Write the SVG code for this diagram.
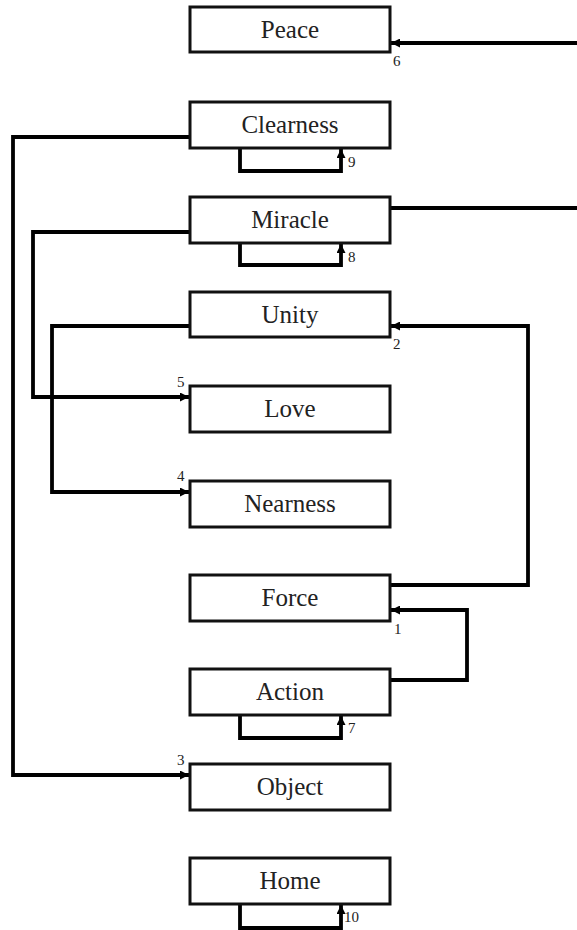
<svg xmlns="http://www.w3.org/2000/svg" width="577" height="930" viewBox="0 0 577 930">
<style>
.box{fill:#fff;stroke:#111;stroke-width:3}
.lbl{font-family:"Liberation Serif","Times New Roman",serif;font-size:25px;fill:#222;text-anchor:middle}
.num{font-family:"Liberation Serif","Times New Roman",serif;font-size:15px;fill:#222}
.edge{fill:none;stroke:#000;stroke-width:3.8}
</style>
<defs>
<marker id="ah" viewBox="0 0 10 10" refX="10" refY="5" markerWidth="9" markerHeight="9" markerUnits="userSpaceOnUse" orient="auto">
<path d="M0,0 L10,5 L0,10 z" fill="#000"/>
</marker>
</defs>
<rect width="577" height="930" fill="#fff"/>
<g id="connectors">
<path class="edge" d="M577,43 H391" marker-end="url(#ah)"/>
<path class="edge" d="M390,208 H577"/>
<path class="edge" d="M240,148 V171 H341 V149" marker-end="url(#ah)"/>
<path class="edge" d="M240,243 V265 H341 V244" marker-end="url(#ah)"/>
<path class="edge" d="M240,715 V738 H341 V716" marker-end="url(#ah)"/>
<path class="edge" d="M240,904 V928 H341 V905" marker-end="url(#ah)"/>
<path class="edge" d="M190,137 H13 V775 H189" marker-end="url(#ah)"/>
<path class="edge" d="M190,232 H33 V397 H189" marker-end="url(#ah)"/>
<path class="edge" d="M190,326 H52 V492 H189" marker-end="url(#ah)"/>
<path class="edge" d="M390,585 H528 V326 H391" marker-end="url(#ah)"/>
<path class="edge" d="M390,680 H467 V610 H391" marker-end="url(#ah)"/>
<text class="num" x="393" y="66">6</text>
<text class="num" x="348" y="167">9</text>
<text class="num" x="348" y="262">8</text>
<text class="num" x="393" y="349">2</text>
<text class="num" x="177" y="387">5</text>
<text class="num" x="177" y="481">4</text>
<text class="num" x="394" y="634">1</text>
<text class="num" x="348" y="733">7</text>
<text class="num" x="177" y="765">3</text>
<text class="num" x="344" y="922">10</text>
</g>
<g id="peace"><rect class="box" x="190" y="7" width="200" height="45"/><text class="lbl" x="290" y="38">Peace</text></g>
<g id="clearness"><rect class="box" x="190" y="102" width="200" height="46"/><text class="lbl" x="290" y="133">Clearness</text></g>
<g id="miracle"><rect class="box" x="190" y="197" width="200" height="46"/><text class="lbl" x="290" y="228">Miracle</text></g>
<g id="unity"><rect class="box" x="190" y="292" width="200" height="45"/><text class="lbl" x="290" y="323">Unity</text></g>
<g id="love"><rect class="box" x="190" y="386" width="200" height="46"/><text class="lbl" x="290" y="417">Love</text></g>
<g id="nearness"><rect class="box" x="190" y="481" width="200" height="46"/><text class="lbl" x="290" y="512">Nearness</text></g>
<g id="force"><rect class="box" x="190" y="575" width="200" height="46"/><text class="lbl" x="290" y="606">Force</text></g>
<g id="action"><rect class="box" x="190" y="669" width="200" height="46"/><text class="lbl" x="290" y="700">Action</text></g>
<g id="object"><rect class="box" x="190" y="764" width="200" height="46"/><text class="lbl" x="290" y="795">Object</text></g>
<g id="home"><rect class="box" x="190" y="858" width="200" height="46"/><text class="lbl" x="290" y="889">Home</text></g>
</svg>
